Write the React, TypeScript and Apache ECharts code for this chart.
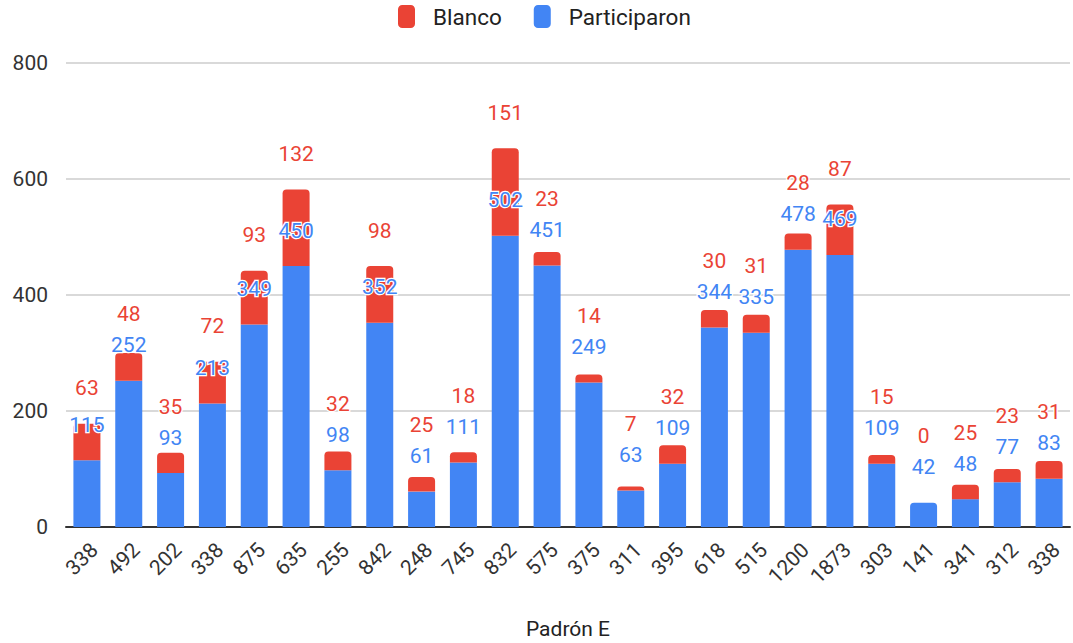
import React, { useEffect, useRef } from "react";
import * as echarts from "echarts";

const categories = ["338", "492", "202", "338", "875", "635", "255", "842", "248", "745", "832", "575", "375", "311", "395", "618", "515", "1200", "1873", "303", "141", "341", "312", "338"];
const participaron = [115, 252, 93, 213, 349, 450, 98, 352, 61, 111, 502, 451, 249, 63, 109, 344, 335, 478, 469, 109, 42, 48, 77, 83];
const blanco = [63, 48, 35, 72, 93, 132, 32, 98, 25, 18, 151, 23, 14, 7, 32, 30, 31, 28, 87, 15, 0, 25, 23, 31];
const yTicks = { min: 0, max: 800, interval: 200 };

const RED = "#EA4335";
const BLUE = "#4285F4";
const FONT = "Roboto";

export default function App() {
  const ref = useRef<HTMLDivElement>(null);
  useEffect(() => {
    if (!ref.current) return;
    const chart = echarts.init(ref.current, undefined, { renderer: "svg" });
    const labelBase = {
      show: true,
      position: "top" as const,
      distance: 25,
      fontFamily: FONT,
      fontSize: 21,
      textBorderColor: "#fff",
      textBorderWidth: 2.5,
    };
    const blueData = participaron.map((v, i) =>
      blanco[i] === 0 ? { value: v, itemStyle: { borderRadius: [4, 4, 0, 0] } } : v
    );
    chart.setOption({
      animation: false,
      textStyle: { fontFamily: FONT },
      legend: {
        top: 0,
        left: 393,
        data: ["Blanco", "Participaron"],
        icon: "roundRect",
        itemWidth: 17,
        itemHeight: 23,
        itemGap: 32,
        textStyle: { fontFamily: FONT, fontSize: 22.5, color: "#222", padding: [0, 0, 0, 13] },
      },
      grid: { left: 66, right: 3, top: 63, bottom: 116, outerBoundsMode: "none", containLabel: false },
      xAxis: {
        type: "category",
        data: categories,
        axisTick: { show: false },
        axisLine: { lineStyle: { color: "#333", width: 2 } },
        axisLabel: { rotate: 45, fontSize: 21, color: "#333", fontFamily: FONT, margin: 12, interval: 0, verticalAlign: "top" },
        name: "Padrón E",
        nameLocation: "middle",
        nameGap: 91,
        nameTextStyle: { fontSize: 21, color: "#222", fontFamily: FONT },
      },
      yAxis: {
        type: "value",
        min: yTicks.min,
        max: yTicks.max,
        interval: yTicks.interval,
        axisLine: { show: false },
        axisTick: { show: false },
        axisLabel: { fontSize: 21, color: "#333", fontFamily: FONT, margin: 18 },
        splitLine: { lineStyle: { color: "#ccc", width: 1.5 } },
      },
      series: [
        {
          name: "Participaron",
          type: "bar",
          stack: "total",
          data: blueData,
          barWidth: 27,
          itemStyle: { color: BLUE },
          label: { ...labelBase, color: BLUE },
        },
        {
          name: "Blanco",
          type: "bar",
          stack: "total",
          data: blanco,
          barWidth: 27,
          itemStyle: { color: RED, borderRadius: [4, 4, 0, 0] },
          label: { ...labelBase, color: RED },
          labelLayout: (params: any) => {
            const h = params.rect ? Math.abs(params.rect.height) : 0;
            const minGap = 31;
            if (h < minGap) return { dy: -(minGap - h) };
            return {};
          },
        },
      ],
    });
    return () => chart.dispose();
  }, []);
  return <div ref={ref} style={{ width: 1073, height: 643, position: "absolute", left: 0, top: 0 }} />;
}
